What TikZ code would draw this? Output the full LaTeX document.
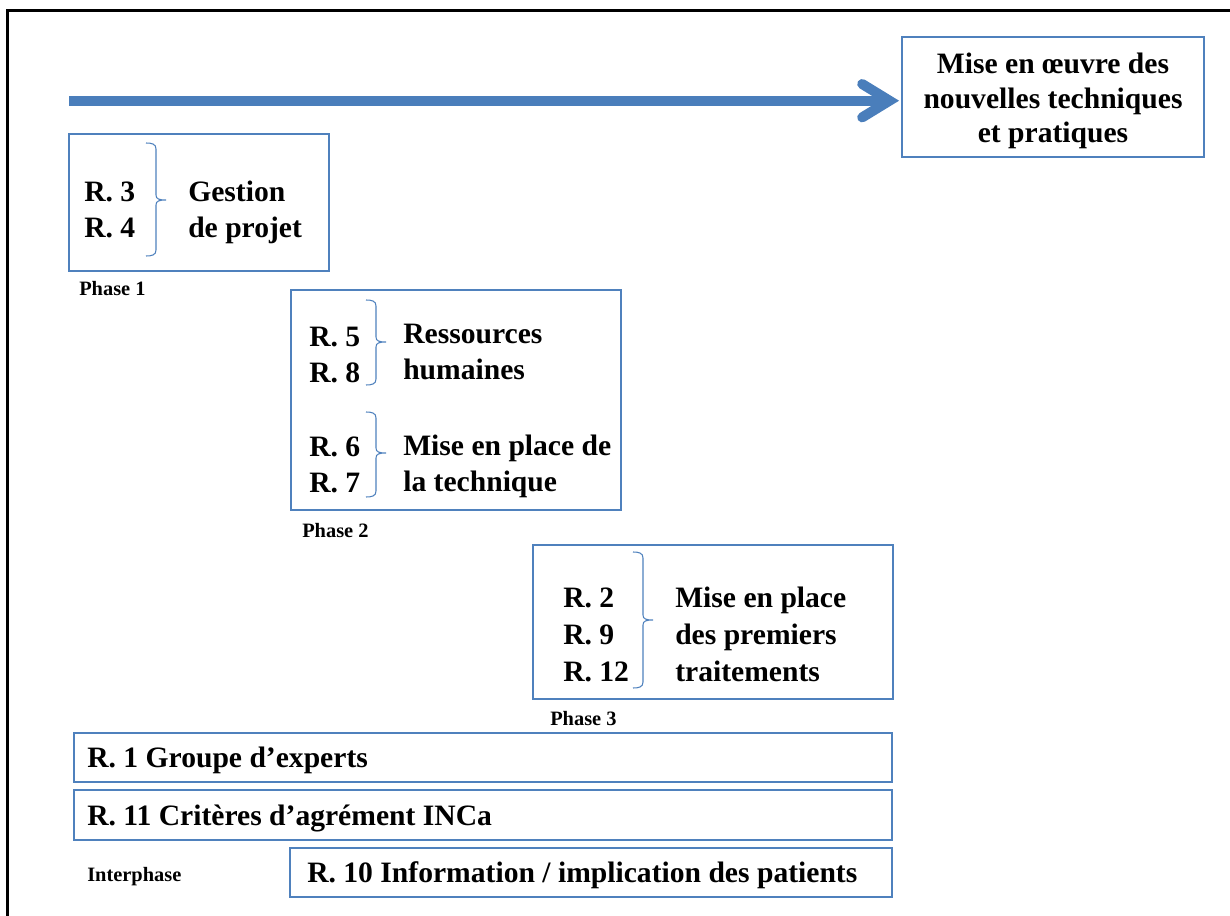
\documentclass[tikz,border=0pt]{standalone}
\usepackage{fontspec}
\setmainfont{Liberation Serif}
\usetikzlibrary{calc,fit}
\definecolor{wordblue}{HTML}{4F81BD}
\definecolor{arrowblue}{HTML}{4A7EBB}
\newcommand{\wordbrace}[5][]{%
  \draw[bracestyle,#1] (#2-10,#3) .. controls (#2-4,#3) and (#2,#3+1) .. (#2,#3+6)
    -- (#2,#4-5) .. controls (#2,#4-1) and (#2+3,#4) .. (#2+10,#4)
    .. controls (#2+3,#4) and (#2,#4+1) .. (#2,#4+5)
    -- (#2,#5-6) .. controls (#2,#5-1) and (#2-4,#5) .. (#2-10,#5);}
\begin{document}
\begin{tikzpicture}[x=0.75pt,y=-0.75pt,
  box/.style={draw=wordblue, line width=0.8pt, inner sep=0pt},
  bracestyle/.style={draw=wordblue, line width=0.8pt},
  frameline/.style={draw=black, line width=2pt},
  arrowline/.style={draw=arrowblue, line width=7.5pt},
  main/.style={font=\bfseries\fontsize{22.2}{27}\selectfont, inner sep=0pt, anchor=base west, align=left},
  phase/.style={font=\bfseries\fontsize{15.3}{18}\selectfont, inner sep=0pt, anchor=base west}]
\useasboundingbox (0,0) rectangle (1230,916);
% frame
\draw[frameline] (7.5,916) -- (7.5,10.3) -- (1230,10.3);
% top right box
\node[box, fit={(902,37) (1204,157)}] (mise) {};
\node[font=\bfseries\fontsize{22.2}{25.9}\selectfont, inner sep=0pt, align=center] (misetxt) at (1053,101)
  {Mise en œuvre des\\nouvelles techniques\\et pratiques};
% arrow
\coordinate (arrowstart) at (69,100.7);
\coordinate (tip) at ($(mise.west|-arrowstart)+(-12,0)$);
\draw[arrowline] (arrowstart) -- ($(tip)+(2,0)$);
\draw[arrowline, line cap=round, line join=miter] ($(tip)+(-27.3,-16.7)$) -- (tip) -- ($(tip)+(-27.3,16.7)$);
% phase 1
\node[box, fit={(69,134) (329,271)}] (p1box) {};
\node[main] (r34) at (84,237.3) {R. 3\\R. 4};
\node[main] (gestion) at (188,237.3) {Gestion\\de projet};
\wordbrace{156}{143}{200}{256}
\node[phase] (phase1) at (79,295) {Phase 1};
% phase 2
\node[box, fit={(291,290) (621,510)}] (p2box) {};
\node[main] (r58) at (309,382.3) {R. 5\\R. 8};
\node[main] (rh) at (403,379.3) {Ressources\\humaines};
\wordbrace{376}{300}{342}{385}
\node[main] (r67) at (309,492.3) {R. 6\\R. 7};
\node[main] (tech) at (403,491.3) {Mise en place de\\la technique};
\wordbrace{376}{412}{453}{497}
\node[phase] (phase2) at (302,537) {Phase 2};
% phase 3
\node[box, fit={(533,545) (893,699)}] (p3box) {};
\node[main, font=\bfseries\fontsize{22.2}{27.7}\selectfont] (r2912) at (563,681.1) {R. 2\\R. 9\\R. 12};
\node[main, font=\bfseries\fontsize{22.2}{27.7}\selectfont] (trait) at (675,681.1) {Mise en place\\des premiers\\traitements};
\wordbrace{643}{552}{620}{688}
\node[phase] (phase3) at (550,725) {Phase 3};
% bottom
\node[box, fit={(74,733) (892,782)}] (r1box) {};
\node[main] (r1) at (87,767) {R. 1 Groupe d’experts};
\node[box, fit={(74,790) (892,840)}] (r11box) {};
\node[main] (r11) at (87,825) {R. 11 Critères d’agrément INCa};
\node[box, fit={(290,848) (892,897)}] (r10box) {};
\node[main] (r10) at (307,882) {R. 10 Information / implication des patients};
\node[phase] (inter) at (87,881) {Interphase};
\end{tikzpicture}
\end{document}
